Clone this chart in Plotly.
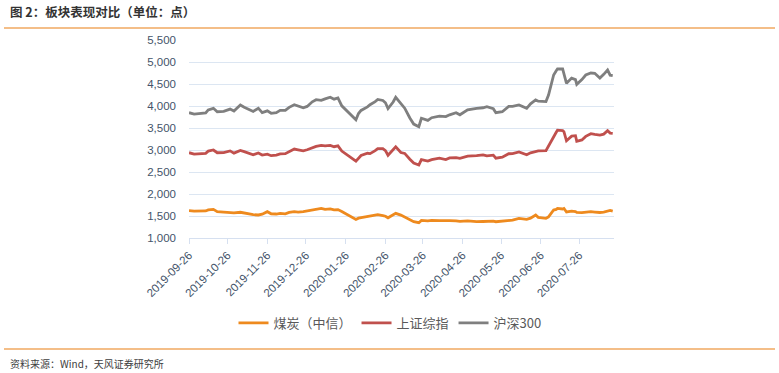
import plotly.graph_objects as go

dates = ["2019-09-26","2019-09-30","2019-10-09","2019-10-11","2019-10-15","2019-10-18","2019-10-23",
"2019-10-28","2019-10-31","2019-11-05","2019-11-08","2019-11-12","2019-11-15","2019-11-19","2019-11-22",
"2019-11-26","2019-11-29","2019-12-03","2019-12-06","2019-12-10","2019-12-13","2019-12-17","2019-12-20",
"2019-12-24","2019-12-27","2019-12-31","2020-01-03","2020-01-07","2020-01-10","2020-01-14","2020-01-17",
"2020-01-20","2020-01-23","2020-02-03","2020-02-05","2020-02-07","2020-02-12","2020-02-14","2020-02-18",
"2020-02-20","2020-02-24","2020-02-26","2020-02-28","2020-03-03","2020-03-05","2020-03-09","2020-03-12",
"2020-03-16","2020-03-19","2020-03-23","2020-03-25","2020-03-30","2020-04-02","2020-04-08","2020-04-13",
"2020-04-16","2020-04-21","2020-04-24","2020-04-30","2020-05-07","2020-05-12","2020-05-15","2020-05-20",
"2020-05-22","2020-05-27","2020-06-01","2020-06-04","2020-06-09","2020-06-12","2020-06-15","2020-06-18",
"2020-06-22","2020-06-24","2020-06-30","2020-07-02","2020-07-06","2020-07-08","2020-07-09","2020-07-13",
"2020-07-14","2020-07-16","2020-07-20","2020-07-23","2020-07-24","2020-07-28","2020-07-31","2020-08-04",
"2020-08-07","2020-08-11","2020-08-14","2020-08-17","2020-08-19","2020-08-21"]

hs300 = [3848,3814,3843,3912,3948,3870,3880,3930,3886,4023,3973,3910,3877,3950,3850,3890,3834,3850,3900,
3900,3970,4030,4000,3960,3990,4096,4144,4129,4163,4200,4155,4185,4003,3688,3828,3899,3980,4030,4100,4150,
4125,4073,3940,4090,4198,4060,3950,3727,3589,3530,3722,3674,3734,3770,3760,3800,3848,3800,3912,3948,3960,
3985,3940,3848,3870,3990,3990,4023,3980,3948,4050,4137,4110,4100,4250,4705,4800,4841,4841,4730,4516,4634,
4600,4493,4600,4705,4750,4743,4634,4720,4818,4700,4690]

sse = [2939,2905,2925,2975,3000,2938,2941,2980,2929,2990,2964,2914,2891,2933,2885,2906,2871,2884,2912,2917,
2967,3022,3004,2982,3005,3050,3083,3104,3092,3106,3075,3095,2976,2746,2818,2875,2926,2917,2984,3030,3031,
2987,2880,2992,3071,2943,2923,2789,2702,2660,2781,2747,2780,2815,2783,2819,2827,2809,2860,2871,2891,2868,
2883,2814,2836,2915,2919,2956,2920,2890,2935,2965,2979,2985,3090,3332,3403,3450,3443,3415,3210,3314,3325,
3196,3228,3310,3371,3354,3340,3360,3438,3385,3380]

coal = [1621,1610,1615,1640,1651,1600,1590,1585,1570,1585,1565,1550,1530,1523,1540,1598,1550,1545,1560,1550,
1580,1598,1590,1600,1615,1640,1660,1674,1650,1660,1640,1645,1600,1420,1450,1460,1480,1500,1520,1530,1510,
1495,1460,1520,1560,1520,1480,1420,1370,1348,1400,1390,1400,1395,1385,1395,1390,1380,1390,1370,1375,1380,
1385,1370,1380,1400,1405,1447,1430,1425,1450,1523,1470,1447,1480,1636,1650,1674,1660,1670,1591,1610,1600,
1583,1575,1590,1598,1590,1580,1590,1621,1625,1610]

tick_dates = ["2019-09-26","2019-10-26","2019-11-26","2019-12-26","2020-01-26","2020-02-26",
              "2020-03-26","2020-04-26","2020-05-26","2020-06-26","2020-07-26"]
y_ticks = [1000,1500,2000,2500,3000,3500,4000,4500,5000,5500]

series = [("煤炭（中信）", coal, "#EE8A1E"), ("上证综指", sse, "#C0504D"), ("沪深300", hs300, "#7F7F7F")]

fig = go.Figure()
for name, vals, col in series:
    fig.add_trace(go.Scatter(x=dates, y=vals, name=name, mode="lines",
                             line=dict(color=col, width=2.8)))

L, R, T, B = 189, 614, 40, 238
W, H = 779, 373
def px(x): return (x - L) / (R - L)
def py(y): return (B - y) / (B - T)

axis_col = "#44546A"
fig.update_layout(
    width=W, height=H,
    margin=dict(l=L, r=W - R, t=T, b=H - B),
    paper_bgcolor="white", plot_bgcolor="white",
    font=dict(family="Liberation Sans, Noto Sans CJK SC", color=axis_col, size=11),
    showlegend=True,
    legend=dict(orientation="h", x=px(390), y=py(323), xanchor="center", yanchor="middle",
                font=dict(family="Noto Sans CJK SC", size=13, color="#595959"),
                itemwidth=30, tracegroupgap=0),
    xaxis=dict(type="date", range=["2019-09-26", "2020-08-22"],
               tickvals=tick_dates, ticktext=tick_dates, tickangle=-45,
               showgrid=False, showline=True, linecolor="#D6E0F0", linewidth=1,
               ticks="outside", ticklen=5, tickcolor="#D6E0F0",
               tickfont=dict(size=11.5, color=axis_col), zeroline=False),
    yaxis=dict(range=[1000, 5500], tickvals=y_ticks, tickformat=",",
               showgrid=True, gridcolor="#DCE6F2", gridwidth=1, zeroline=False,
               showline=False, ticklabelstandoff=12,
               tickfont=dict(size=11.5, color=axis_col)),
)

fig.add_annotation(text="<b>图 2：板块表现对比（单位：点）</b>", xref="paper", yref="paper",
                   x=px(8), y=py(11), xanchor="left", yanchor="middle", showarrow=False,
                   font=dict(family="Noto Sans CJK SC", size=12.5, color="#333333"))
fig.add_annotation(text="资料来源：Wind，天风证券研究所", xref="paper", yref="paper",
                   x=px(8), y=py(363), xanchor="left", yanchor="middle", showarrow=False,
                   font=dict(family="Noto Sans CJK SC", size=10, color="#404040"))
for yy in (28, 349):
    fig.add_shape(type="line", xref="paper", yref="paper", x0=px(4), x1=px(775),
                  y0=py(yy), y1=py(yy), line=dict(color="#F0A860", width=1.5))

fig.write_html("out.html", config={"displayModeBar": False},
               post_script="document.body.style.margin='0';document.body.style.overflow='hidden';")
